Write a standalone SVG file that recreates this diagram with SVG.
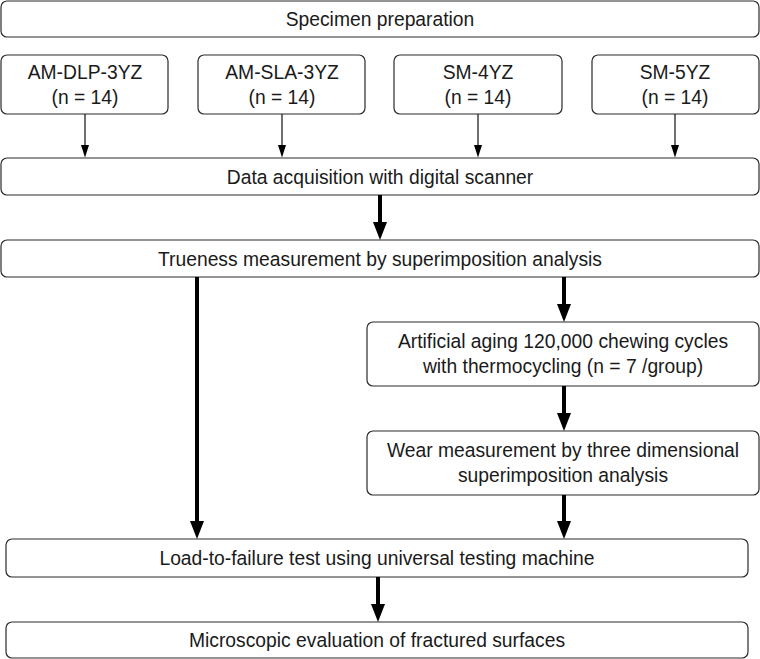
<svg xmlns="http://www.w3.org/2000/svg" width="760" height="659" viewBox="0 0 760 659">
<style>
.box{fill:#fff;stroke:#2a2a2a;stroke-width:1.2}
text{font-family:"Liberation Sans",Arial,sans-serif;font-size:19.3px;fill:#1a1a1a;text-anchor:middle}
.thin{stroke:#111;stroke-width:1.2;fill:none}
.thick{stroke:#000;stroke-width:4;fill:none}
.head{fill:#000}
</style>
<rect width="760" height="659" fill="#fff"/>
<g id="n-specimen"><rect class="box" x="1" y="1" width="758" height="36" rx="6"/><text x="380" y="26">Specimen preparation</text></g>
<g id="n-dlp"><rect class="box" x="1" y="55" width="167" height="59" rx="6"/><text x="85" y="79">AM-DLP-3YZ</text><text x="85" y="104">(n = 14)</text></g>
<g id="n-sla"><rect class="box" x="198" y="55" width="167" height="59" rx="6"/><text x="282" y="79">AM-SLA-3YZ</text><text x="282" y="104">(n = 14)</text></g>
<g id="n-sm4"><rect class="box" x="394" y="55" width="168" height="59" rx="6"/><text x="478" y="79">SM-4YZ</text><text x="478" y="104">(n = 14)</text></g>
<g id="n-sm5"><rect class="box" x="592" y="55" width="167" height="59" rx="6"/><text x="675" y="79">SM-5YZ</text><text x="675" y="104">(n = 14)</text></g>
<g id="n-data"><rect class="box" x="1" y="158" width="758" height="37" rx="6"/><text x="380" y="184">Data acquisition with digital scanner</text></g>
<g id="n-trueness"><rect class="box" x="1" y="240" width="758" height="37" rx="6"/><text x="380" y="266">Trueness measurement by superimposition analysis</text></g>
<g id="n-aging"><rect class="box" x="367" y="322" width="392" height="64" rx="6"/><text x="563" y="348">Artificial aging 120,000 chewing cycles</text><text x="563" y="373">with thermocycling (n = 7 /group)</text></g>
<g id="n-wear"><rect class="box" x="367" y="431" width="392" height="64" rx="6"/><text x="563" y="457">Wear measurement by three dimensional</text><text x="563" y="482">superimposition analysis</text></g>
<g id="n-load"><rect class="box" x="6" y="539" width="742" height="38" rx="6"/><text x="377" y="565">Load-to-failure test using universal testing machine</text></g>
<g id="n-micro"><rect class="box" x="6" y="622" width="742" height="36" rx="6"/><text x="377" y="647">Microscopic evaluation of fractured surfaces</text></g>
<g id="connectors">
<g class="thin">
<line x1="85" y1="114" x2="85" y2="146"/>
<line x1="282" y1="114" x2="282" y2="146"/>
<line x1="478" y1="114" x2="478" y2="146"/>
<line x1="675" y1="114" x2="675" y2="146"/>
</g>
<g class="head">
<path d="M81,145 L89,145 L85,157.5 Z"/>
<path d="M278,145 L286,145 L282,157.5 Z"/>
<path d="M474,145 L482,145 L478,157.5 Z"/>
<path d="M671,145 L679,145 L675,157.5 Z"/>
</g>
<g class="thick">
<line x1="380" y1="195" x2="380" y2="224"/>
<line x1="197" y1="277" x2="197" y2="523"/>
<line x1="564" y1="277" x2="564" y2="306"/>
<line x1="564" y1="386" x2="564" y2="415"/>
<line x1="564" y1="495" x2="564" y2="523"/>
<line x1="378" y1="577" x2="378" y2="606"/>
</g>
<g class="head">
<path d="M373,222 L387,222 L380,240 Z"/>
<path d="M190,521 L204,521 L197,539 Z"/>
<path d="M557,304 L571,304 L564,322 Z"/>
<path d="M557,413 L571,413 L564,431 Z"/>
<path d="M557,521 L571,521 L564,539 Z"/>
<path d="M371,604 L385,604 L378,622 Z"/>
</g>
</g>
</svg>
